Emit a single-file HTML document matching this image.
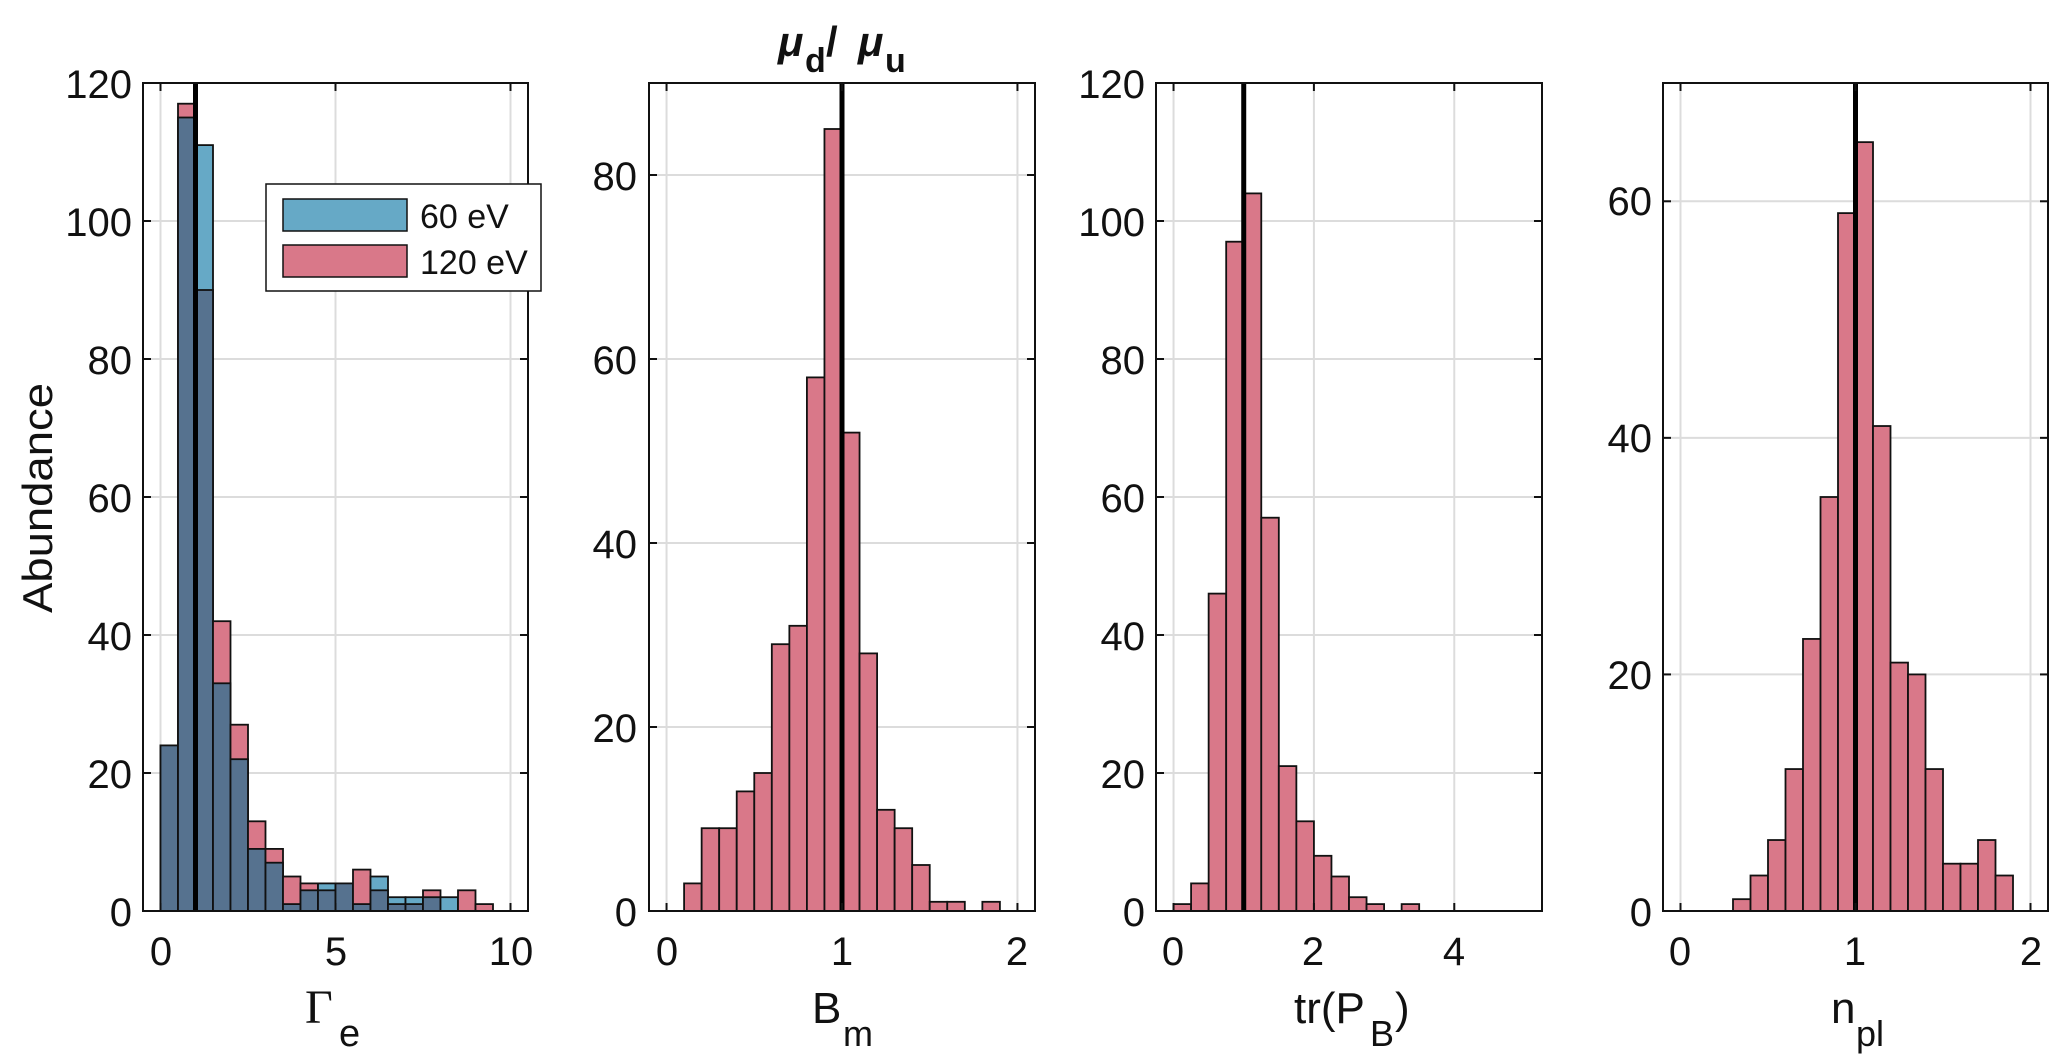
<!DOCTYPE html>
<html><head><meta charset="utf-8"><style>
html,body{margin:0;padding:0;background:#fff;}
svg{display:block;font-family:"Liberation Sans",Arial,sans-serif;}
</style></head><body>
<svg id="s" width="2067" height="1062" viewBox="0 0 2067 1062" xmlns="http://www.w3.org/2000/svg">
<g id="plots"></g>
<!-- tick labels panel1 -->
<g font-size="40" fill="#111">
<g text-anchor="end">
<text x="132" y="926">0</text><text x="132" y="788">20</text><text x="132" y="650">40</text><text x="132" y="512">60</text><text x="132" y="374">80</text><text x="132" y="236">100</text><text x="132" y="98">120</text>
<text x="637" y="926">0</text><text x="637" y="742">20</text><text x="637" y="558">40</text><text x="637" y="374">60</text><text x="637" y="190">80</text>
<text x="1145" y="926">0</text><text x="1145" y="788">20</text><text x="1145" y="650">40</text><text x="1145" y="512">60</text><text x="1145" y="374">80</text><text x="1145" y="236">100</text><text x="1145" y="98">120</text>
<text x="1652" y="926">0</text><text x="1652" y="689">20</text><text x="1652" y="452">40</text><text x="1652" y="215">60</text>
</g>
<g text-anchor="middle">
<text x="161" y="965">0</text><text x="336" y="965">5</text><text x="511" y="965">10</text>
<text x="667" y="965">0</text><text x="842" y="965">1</text><text x="1017" y="965">2</text>
<text x="1173" y="965">0</text><text x="1313" y="965">2</text><text x="1454" y="965">4</text>
<text x="1680" y="965">0</text><text x="1855" y="965">1</text><text x="2031" y="965">2</text>
</g>
</g>
<!-- axis labels -->
<text x="305" y="1023" font-family="Liberation Serif,serif" font-size="48" fill="#111">Γ</text>
<text x="339" y="1046" font-size="38" fill="#111">e</text>
<text x="812" y="1023" font-size="44" fill="#111">B</text><text x="843" y="1046" font-size="36" fill="#111">m</text>
<text x="1294" y="1023" font-size="44" fill="#111">tr(P</text><text x="1370" y="1046" font-size="36" fill="#111">B</text><text x="1395" y="1023" font-size="44" fill="#111">)</text>
<text x="1831" y="1023" font-size="44" fill="#111">n</text><text x="1856" y="1046" font-size="36" fill="#111">pl</text>
<text transform="translate(52,498) rotate(-90)" text-anchor="middle" font-size="42" fill="#111" textLength="230" lengthAdjust="spacingAndGlyphs">Abundance</text>
<g font-weight="bold" font-size="42" fill="#111" font-style="italic">
<text x="778" y="56">μ</text><text x="805" y="72" font-style="normal" font-size="34">d</text><text x="826" y="56" font-style="normal">/</text>
<text x="858" y="56">μ</text><text x="885" y="72" font-style="normal" font-size="34">u</text>
</g>
<!-- legend -->
<rect x="266" y="184" width="275" height="107" fill="#fff" stroke="#111" stroke-width="1.5"/>
<rect x="283" y="199" width="124" height="32" fill="#66a9c6" stroke="#111" stroke-width="1.5"/>
<rect x="283" y="245" width="124" height="32" fill="#d97889" stroke="#111" stroke-width="1.5"/>
<text x="420" y="228" font-size="34" fill="#111">60 eV</text>
<text x="420" y="274" font-size="34" fill="#111">120 eV</text>
</svg>
<script>
const NS="http://www.w3.org/2000/svg",G=document.getElementById('plots');
function el(t,a){const e=document.createElementNS(NS,t);for(const k in a)e.setAttribute(k,a[k]);G.appendChild(e);return e;}
const T=83,B=911,H=B-T;
function panel(L,R,xmin,xmax,ymax,xt,yt,bars,vline){
 const sx=v=>L+(v-xmin)/(xmax-xmin)*(R-L), sy=v=>B-v/ymax*H;
 xt.forEach(v=>el('line',{x1:sx(v),x2:sx(v),y1:T,y2:B,stroke:'#dcdcdc','stroke-width':2}));
 yt.forEach(v=>el('line',{x1:L,x2:R,y1:sy(v),y2:sy(v),stroke:'#dcdcdc','stroke-width':2}));
 bars.forEach(b=>{ // b: [x0,x1,segs] segs = [[h,color],...] from top-down
   const [x0,x1,segs]=b;
   segs.forEach(s=>{ if(s[0]<=0)return; el('rect',{x:sx(x0),y:sy(s[0]),width:sx(x1)-sx(x0),height:B-sy(s[0]),fill:s[1],stroke:'#111','stroke-width':1.8});});
 });
 el('line',{x1:sx(vline),x2:sx(vline),y1:T,y2:B,stroke:'#000','stroke-width':5});
 el('rect',{x:L,y:T,width:R-L,height:H,fill:'none',stroke:'#111','stroke-width':2});
 xt.forEach(v=>{el('line',{x1:sx(v),x2:sx(v),y1:B,y2:B-8,stroke:'#111','stroke-width':2});el('line',{x1:sx(v),x2:sx(v),y1:T,y2:T+8,stroke:'#111','stroke-width':2});});
 yt.forEach(v=>{el('line',{x1:L,x2:L+8,y1:sy(v),y2:sy(v),stroke:'#111','stroke-width':2});el('line',{x1:R,x2:R-8,y1:sy(v),y2:sy(v),stroke:'#111','stroke-width':2});});
}
const RED='#d97889',BLU='#66a9c6',OV='#56728f';
// panel 1
const blue=[24,115,111,33,22,9,7,1,3,4,4,1,5,2,2,2,2,0,0];
const red =[24,117,90,42,27,13,9,5,4,3,4,6,3,1,1,3,0,3,1];
const b1=[];
for(let i=0;i<19;i++){const bl=blue[i],r=red[i],mx=Math.max(bl,r),mn=Math.min(bl,r);
 const segs=[[mx,bl>r?BLU:RED]]; if(mn>0)segs.push([mn,OV]); b1.push([i*0.5,i*0.5+0.5,segs]);}
panel(143,528,-0.5,10.5,120,[0,5,10],[0,20,40,60,80,100,120],b1,1);
function mk(start,w,arr){return arr.map((c,i)=>[start+i*w,start+(i+1)*w,[[c,RED]]]);}
panel(649,1035,-0.1,2.1,90,[0,1,2],[0,20,40,60,80],mk(0.1,0.1,[3,9,9,13,15,29,31,58,85,52,28,11,9,5,1,1,0,1]),1);
panel(1156,1542,-0.25,5.25,120,[0,2,4],[0,20,40,60,80,100,120],mk(0,0.25,[1,4,46,97,104,57,21,13,8,5,2,1,0,1]),1);
panel(1663,2048,-0.1,2.1,70,[0,1,2],[0,20,40,60],mk(0.3,0.1,[1,3,6,12,23,35,59,65,41,21,20,12,4,4,6,3]),1);
</script>
</body></html>
